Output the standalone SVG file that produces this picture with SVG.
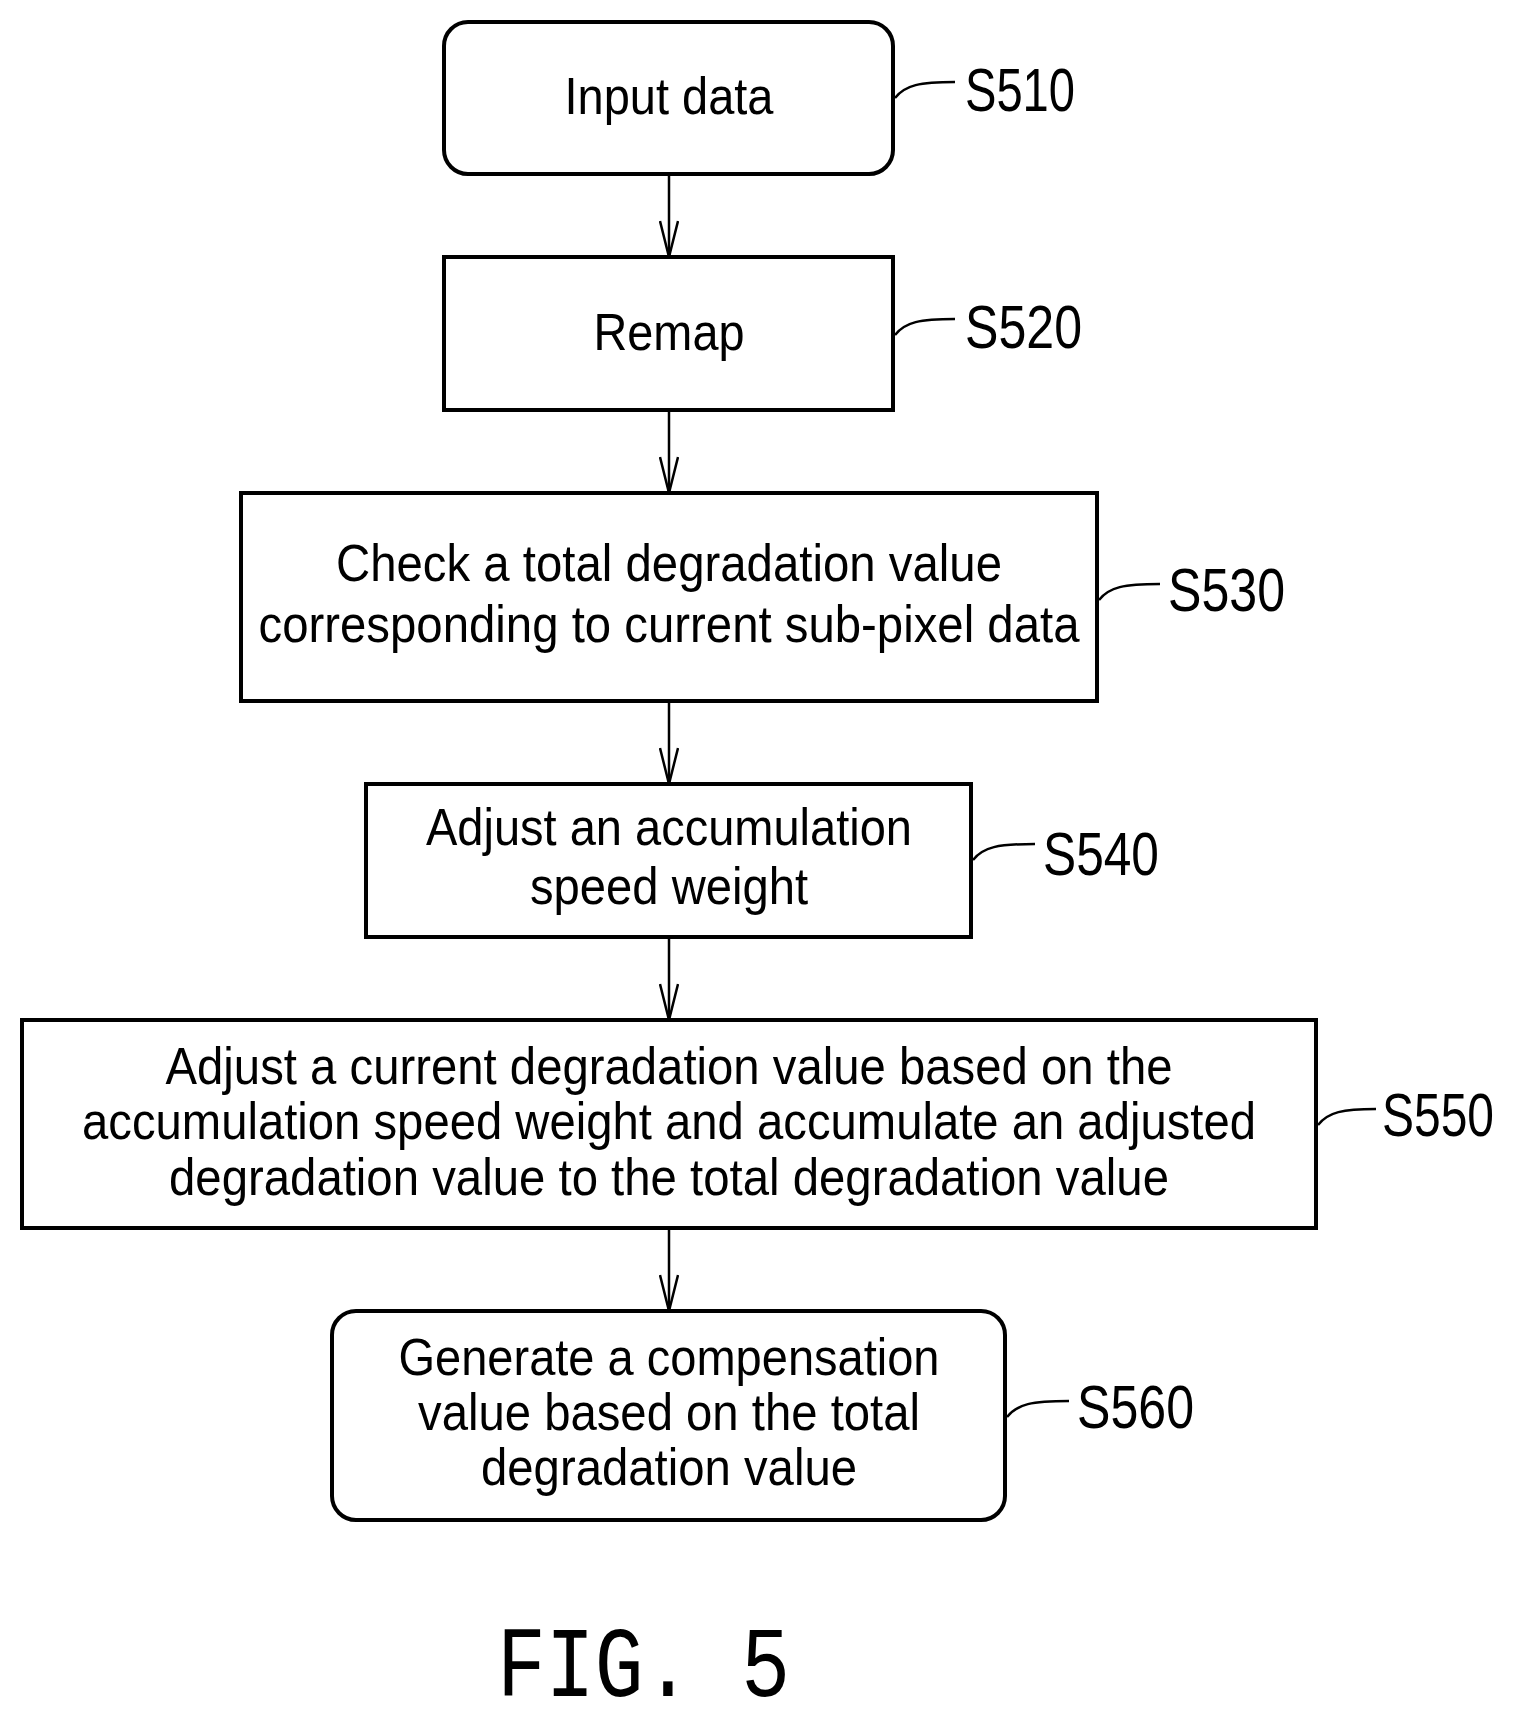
<svg xmlns="http://www.w3.org/2000/svg" width="1523" height="1726" viewBox="0 0 1523 1726">
<style>
.b{fill:#fff;stroke:#000;stroke-width:4}
.t{font-family:"Liberation Sans",Arial,sans-serif;font-size:52px;text-anchor:middle;fill:#000}
.l{font-family:"Liberation Sans",Arial,sans-serif;font-size:62px;fill:#000}
.c{fill:none;stroke:#000;stroke-width:2.5}
</style>
<defs><marker id="a" markerWidth="40" markerHeight="20" refX="38" refY="10" orient="auto" markerUnits="userSpaceOnUse" viewBox="0 0 40 20"><path d="M2,1 L38,10 L2,19" fill="none" stroke="#000" stroke-width="2.5"/></marker></defs>
<rect width="1523" height="1726" fill="#fff"/>
<g id="connectors">
<line class="c" x1="669" y1="174" x2="669" y2="257" marker-end="url(#a)"/>
<line class="c" x1="669" y1="410" x2="669" y2="493" marker-end="url(#a)"/>
<line class="c" x1="669" y1="701" x2="669" y2="784" marker-end="url(#a)"/>
<line class="c" x1="669" y1="937" x2="669" y2="1020" marker-end="url(#a)"/>
<line class="c" x1="669" y1="1228" x2="669" y2="1311" marker-end="url(#a)"/>
<path class="c" d="M895,98 C905,85 920,82 955,82"/>
<path class="c" d="M895,335 C905,322 920,319 955,319"/>
<path class="c" d="M1099,600 C1109,587 1124,584 1160,584"/>
<path class="c" d="M973,860 C983,847 998,844 1035,844"/>
<path class="c" d="M1318,1125 C1328,1112 1343,1109 1376,1109"/>
<path class="c" d="M1007,1417 C1017,1404 1032,1401 1069,1401"/>
</g>
<g id="S510"><rect class="b" x="444" y="22" width="449" height="152" rx="24"/><text class="t" x="669" y="114" textLength="209" lengthAdjust="spacingAndGlyphs">Input data</text><text class="l" x="965" y="111" textLength="110" lengthAdjust="spacingAndGlyphs">S510</text></g>
<g id="S520"><rect class="b" x="444" y="257" width="449" height="153"/><text class="t" x="669" y="350" textLength="151" lengthAdjust="spacingAndGlyphs">Remap</text><text class="l" x="965" y="348" textLength="117" lengthAdjust="spacingAndGlyphs">S520</text></g>
<g id="S530"><rect class="b" x="241" y="493" width="856" height="208"/><text class="t" x="669" y="581" textLength="666" lengthAdjust="spacingAndGlyphs">Check a total degradation value</text><text class="t" x="669" y="642" textLength="821" lengthAdjust="spacingAndGlyphs">corresponding to current sub-pixel data</text><text class="l" x="1168" y="611" textLength="117" lengthAdjust="spacingAndGlyphs">S530</text></g>
<g id="S540"><rect class="b" x="366" y="784" width="605" height="153"/><text class="t" x="669" y="845" textLength="486" lengthAdjust="spacingAndGlyphs">Adjust an accumulation</text><text class="t" x="669" y="904" textLength="278" lengthAdjust="spacingAndGlyphs">speed weight</text><text class="l" x="1043" y="875" textLength="116" lengthAdjust="spacingAndGlyphs">S540</text></g>
<g id="S550"><rect class="b" x="22" y="1020" width="1294" height="208"/><text class="t" x="669" y="1084" textLength="1007" lengthAdjust="spacingAndGlyphs">Adjust a current degradation value based on the</text><text class="t" x="669" y="1139" textLength="1174" lengthAdjust="spacingAndGlyphs">accumulation speed weight and accumulate an adjusted</text><text class="t" x="669" y="1195" textLength="1000" lengthAdjust="spacingAndGlyphs">degradation value to the total degradation value</text><text class="l" x="1382" y="1136" font-size="60" textLength="112" lengthAdjust="spacingAndGlyphs">S550</text></g>
<g id="S560"><rect class="b" x="332" y="1311" width="673" height="209" rx="24"/><text class="t" x="669" y="1375" textLength="541" lengthAdjust="spacingAndGlyphs">Generate a compensation</text><text class="t" x="669" y="1430" textLength="502" lengthAdjust="spacingAndGlyphs">value based on the total</text><text class="t" x="669" y="1485" textLength="376" lengthAdjust="spacingAndGlyphs">degradation value</text><text class="l" x="1077" y="1428" textLength="117" lengthAdjust="spacingAndGlyphs">S560</text></g>
<text x="497" y="1696" font-family="Liberation Mono,monospace" font-size="100" textLength="293" lengthAdjust="spacingAndGlyphs">FIG. 5</text>
</svg>
